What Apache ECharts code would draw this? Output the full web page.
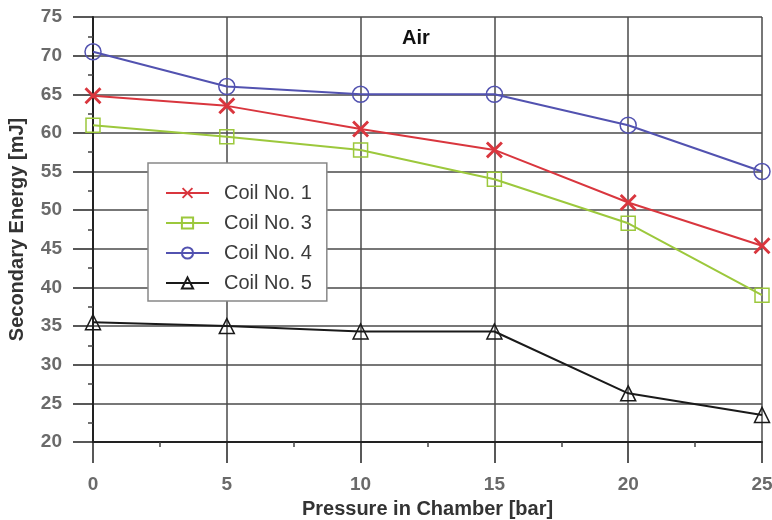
<!DOCTYPE html>
<html><head><meta charset="utf-8">
<script src="https://cdn.jsdelivr.net/npm/echarts@6/dist/echarts.min.js"></script>
<style>html,body{margin:0;padding:0;background:#fff}#c{width:772px;height:520px}</style>
</head><body><div id="c"></div>
<script>
const pressure = [0, 5, 10, 15, 20, 25];
const seriesNames = ['Coil No. 1', 'Coil No. 3', 'Coil No. 4', 'Coil No. 5'];
const coil1 = [64.8, 63.5, 60.5, 57.8, 51.0, 45.4];
const coil3 = [61.0, 59.5, 57.8, 54.0, 48.3, 39.0];
const coil4 = [70.5, 66.0, 65.0, 65.0, 61.0, 55.0];
const coil5 = [35.5, 35.0, 34.3, 34.3, 26.3, 23.5];
const yTicks = {min: 20, max: 75, step: 5};
const xTicks = {min: 0, max: 25, step: 5};

const pair = arr => arr.map((v, i) => [pressure[i], v]);
const XPATH = 'path://M0,1.2L1.2,0L5,3.8L8.8,0L10,1.2L6.2,5L10,8.8L8.8,10L5,6.2L1.2,10L0,8.8L3.8,5Z';
const FONT = 'Liberation Sans, Arial, sans-serif';

function mk(name, data, color, symbol, size, filled) {
  return {
    name, type: 'line', data: pair(data), symbol, symbolSize: size,
    lineStyle: {color, width: 2},
    itemStyle: filled ? {color, borderWidth: 0} : {color: 'rgba(255,255,255,0)', borderColor: color, borderWidth: 1.5},
    emphasis: {disabled: true}, z: 3
  };
}

const chart = echarts.init(document.getElementById('c'), null, {renderer: 'canvas'});
const labelFont = {color: '#6a6a6a', fontSize: 19, fontWeight: 'bold', fontFamily: FONT};
const nameFont = {fontSize: 20, fontWeight: 'bold', color: '#333', fontFamily: FONT};
chart.setOption({
  animation: false,
  backgroundColor: '#fff',
  title: {text: 'Air', left: 402, top: 28, padding: 0, textStyle: {fontSize: 20, fontWeight: 'bold', color: '#111', fontFamily: FONT}},
  grid: {left: 93, right: 10, top: 17, bottom: 78, containLabel: false, outerBoundsMode: 'none'},
  legend: {
    orient: 'vertical', left: 148, top: 163,
    padding: [20, 15, 8, 17], itemGap: 10, itemWidth: 43, itemHeight: 14,
    backgroundColor: '#fff', borderColor: '#888', borderWidth: 1.5,
    textStyle: {fontSize: 20, lineHeight: 20, color: '#3a3a3a', fontFamily: FONT, padding: [0, 0, 0, 10]},
    data: seriesNames
  },
  xAxis: {
    type: 'value', min: xTicks.min, max: xTicks.max, interval: xTicks.step,
    name: 'Pressure in Chamber [bar]', nameLocation: 'middle', nameGap: 57,
    nameTextStyle: nameFont,
    axisLine: {lineStyle: {color: '#222', width: 2}},
    axisTick: {show: true, length: 21, lineStyle: {color: '#222', width: 1.5}},
    minorTick: {show: true, splitNumber: 2, length: 5, lineStyle: {color: '#444', width: 1.5}},
    axisLabel: Object.assign({margin: 33}, labelFont),
    splitLine: {show: true, lineStyle: {color: '#4a4a4a', width: 1.5}}
  },
  yAxis: {
    type: 'value', min: yTicks.min, max: yTicks.max, interval: yTicks.step,
    name: 'Secondary Energy [mJ]', nameLocation: 'middle', nameGap: 66,
    nameTextStyle: nameFont,
    axisLine: {show: true, lineStyle: {color: '#222', width: 2}},
    axisTick: {show: true, length: 20, lineStyle: {color: '#222', width: 1.5}},
    minorTick: {show: true, splitNumber: 2, length: 5, lineStyle: {color: '#444', width: 1.5}},
    axisLabel: Object.assign({margin: 31}, labelFont),
    splitLine: {show: true, lineStyle: {color: '#4a4a4a', width: 1.5}}
  },
  series: [
    mk(seriesNames[0], coil1, '#d9363e', XPATH, 17, true),
    mk(seriesNames[1], coil3, '#9cc83c', 'rect', 14, false),
    mk(seriesNames[2], coil4, '#5252b0', 'circle', 16, false),
    mk(seriesNames[3], coil5, '#1a1a1a', 'triangle', 15, false)
  ]
});
</script></body></html>
